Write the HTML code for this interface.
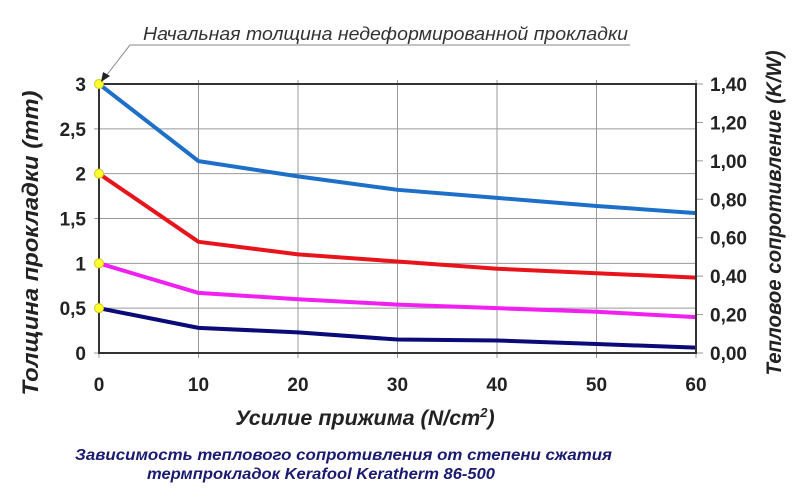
<!DOCTYPE html>
<html><head><meta charset="utf-8"><style>
html,body{margin:0;padding:0;background:#fff;}
svg{display:block;font-family:"Liberation Sans","Noto Sans CJK SC",sans-serif;}
</style></head><body>
<svg id="chart" width="799" height="500" viewBox="0 0 799 500">
<g id="grid"></g>
<g id="series"></g>
<g id="axes"></g>
<g>
<text x="143" y="40" font-size="18.8" font-style="italic" fill="#333" textLength="485" lengthAdjust="spacingAndGlyphs">Начальная толщина недеформированной прокладки</text>
<polyline points="630,45 130,45 106,76" fill="none" stroke="#888" stroke-width="1"/>
<polygon points="101,82 103,72 110,76" fill="#222"/>
</g>
<text transform="translate(38,243) rotate(-90)" text-anchor="middle" font-size="22" font-weight="bold" font-style="italic" fill="#222" textLength="305" lengthAdjust="spacingAndGlyphs">Толщина прокладки (mm)</text>
<text transform="translate(781,213) rotate(-90)" text-anchor="middle" font-size="21" font-weight="bold" font-style="italic" fill="#222" textLength="325" lengthAdjust="spacingAndGlyphs">Тепловое сопротивление (K/W)</text>
<text x="365" y="425" text-anchor="middle" font-size="21.5" font-weight="bold" font-style="italic" fill="#222">Усилие прижима (N/cm<tspan font-size="13" dy="-8">2</tspan><tspan dy="8">)</tspan></text>
<text x="75" y="460" font-size="16" font-weight="bold" font-style="italic" fill="#1a1a70" textLength="537" lengthAdjust="spacingAndGlyphs">Зависимость теплового сопротивления от степени сжатия</text>
<text x="147" y="479" font-size="16" font-weight="bold" font-style="italic" fill="#1a1a70" textLength="348" lengthAdjust="spacingAndGlyphs">термпрокладок Kerafool Keratherm 86-500</text>
</svg>
<script>
const xCats=[0,10,20,30,40,50,60];
const leftTicks=[0,0.5,1,1.5,2,2.5,3];
const leftTickLabels=["0","0,5","1","1,5","2","2,5","3"];
const rightTicks=[0,0.2,0.4,0.6,0.8,1.0,1.2,1.4];
const rightTickLabels=["0,00","0,20","0,40","0,60","0,80","1,00","1,20","1,40"];
const seriesBlue=[3,2.14,1.97,1.82,1.73,1.64,1.56];
const seriesRed=[2,1.24,1.10,1.02,0.94,0.89,0.84];
const seriesMagenta=[1,0.67,0.60,0.54,0.50,0.46,0.40];
const seriesNavy=[0.5,0.28,0.23,0.15,0.14,0.10,0.06];

const NS="http://www.w3.org/2000/svg";
const X0=99,X1=696,Y0=353,Y1=84;
const xs=v=>X0+(v-0)/(60-0)*(X1-X0);
const yl=v=>Y0-(v/3)*(Y0-Y1);
const yr=v=>Y0-(v/1.4)*(Y0-Y1);
function mk(tag,attrs,parent){const e=document.createElementNS(NS,tag);for(const k in attrs)e.setAttribute(k,attrs[k]);parent.appendChild(e);return e;}
const grid=document.getElementById('grid'),axes=document.getElementById('axes'),ser=document.getElementById('series');
leftTicks.forEach((t,i)=>{
  const l=mk('line',{x1:X0-5,x2:X1,y1:yl(t),y2:yl(t),stroke:'#999','stroke-width':1},grid);
  
  
  const tx=mk('text',{x:86,y:yl(t)+7,'text-anchor':'end','font-size':19,'font-weight':'bold',fill:'#222'},axes);
  tx.textContent=leftTickLabels[i];
  
  
});
rightTicks.forEach((t,i)=>{
  const l=mk('line',{x1:X1,x2:X1+7,y1:yr(t),y2:yr(t),stroke:'#999','stroke-width':1},grid);
  
  
  const tx=mk('text',{x:710,y:yr(t)+7,'font-size':19,'font-weight':'bold',fill:'#222'},axes);
  tx.textContent=rightTickLabels[i];
  
  
});
xCats.forEach(c=>{
  const l=mk('line',{x1:xs(c),x2:xs(c),y1:Y1-4,y2:Y0+5,stroke:'#999','stroke-width':1},grid);
  
  
  const tx=mk('text',{x:xs(c),y:391,'text-anchor':'middle','font-size':19,'font-weight':'bold',fill:'#222'},axes);
  tx.textContent=String(c);
  
  
});
const frame=mk('rect',{x:X0,y:Y1,width:X1-X0,height:Y0-Y1,fill:'none',stroke:'#333','stroke-width':2},axes);


const allSeries=[[seriesBlue,'#1e6fc8','line-blue'],[seriesRed,'#e8141c','line-red'],[seriesMagenta,'#f020f0','line-magenta'],[seriesNavy,'#0a0a78','line-navy']];
allSeries.forEach(([vals,col,name])=>{
  const p=mk('polyline',{points:vals.map((v,i)=>xs(xCats[i])+','+yl(v)).join(' '),fill:'none',stroke:col,'stroke-width':4,'stroke-linejoin':'round'},ser);
  
  
});
allSeries.forEach(([vals])=>{
  const d=mk('circle',{cx:xs(xCats[0]),cy:yl(vals[0]),r:4.5,fill:'#ffff30',stroke:'#d8c820','stroke-width':1},axes);
  
  
});
</script>
</body></html>
